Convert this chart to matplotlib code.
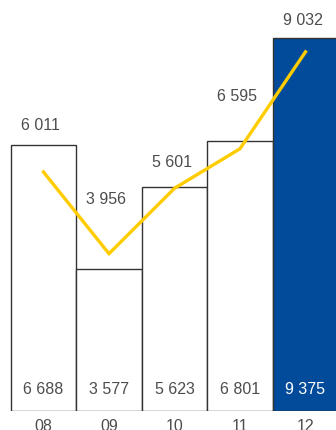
import matplotlib
matplotlib.use("Agg")
import matplotlib.pyplot as plt

years = ["08", "09", "10", "11", "12"]
bar_values = [6688, 3577, 5623, 6801, 9375]
line_values = [6011, 3956, 5601, 6595, 9032]
# heights where the line labels sit
line_label_y = [7170, 5330, 6260, 7920, 9810]

plt.rcParams['font.family'] = ['Liberation Sans', 'DejaVu Sans']

fig = plt.figure(figsize=(3.36, 4.30), dpi=100)
ax = fig.add_axes([0, 19 / 430, 1, 411 / 430])

x = list(range(len(years)))
fills = ["white"] * (len(years) - 1) + ["#014B9A"]
ax.bar(x, bar_values, width=1.0, color=fills, edgecolor="#333333", linewidth=1.0, zorder=1)
ax.plot(x, line_values, color="#FFCC00", linewidth=2.4, solid_joinstyle="miter", zorder=3)

for i, v in enumerate(bar_values):
    col = "white" if i == len(years) - 1 else "#4d4d4d"
    ax.text(i, 540, f"{v:,}".replace(",", " "), ha="center", va="center",
            fontsize=11.5, color=col, zorder=4)

for i, v in enumerate(line_values):
    ax.text(i - 0.04, line_label_y[i], f"{v:,}".replace(",", " "), ha="center", va="center",
            fontsize=11.5, color="#4d4d4d", zorder=4)

ax.set_xlim(-0.664, 4.466)
ax.set_ylim(0, 10336)
ax.set_xticks(x)
ax.set_xticklabels(years, fontsize=11.5, color="#4d4d4d")
ax.tick_params(axis="x", length=0, pad=6)
ax.set_yticks([])
for s in ax.spines.values():
    s.set_visible(False)

fig.savefig("out.png", dpi=100)
